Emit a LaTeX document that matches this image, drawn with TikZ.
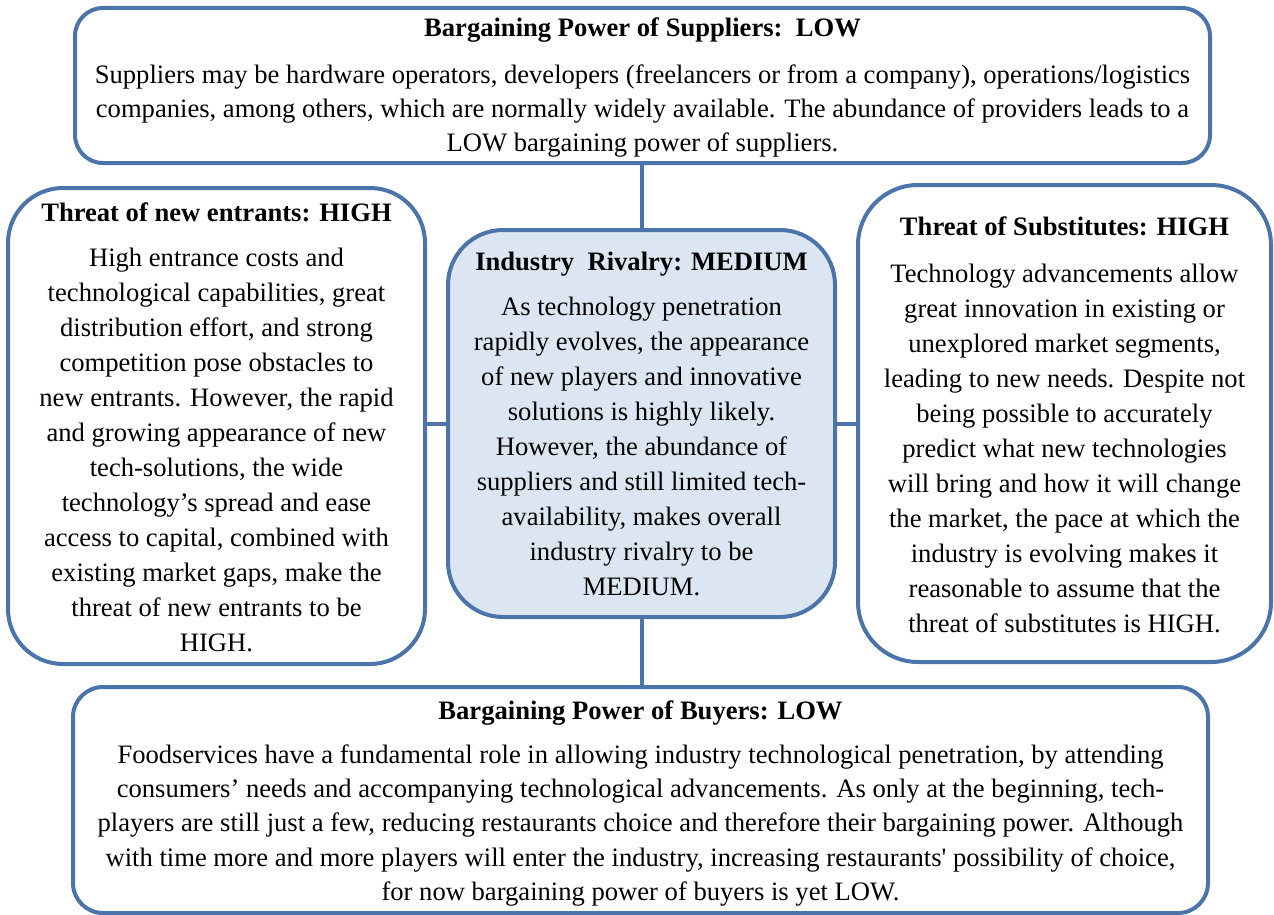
\documentclass[tikz,border=0pt]{standalone}
\usepackage{fontspec}
\setmainfont{Liberation Serif}
\begin{document}
\begin{tikzpicture}[x=1pt,y=-1pt,
  forcebox/.style={draw=forceblue, line width=4pt, fill=white, rectangle, inner sep=0pt},
  rivalbox/.style={forcebox, fill=rivalfill},
  forcetext/.style={anchor=north, align=center, inner sep=0pt,
    font=\fontsize{26.6}{34.3}\selectfont},
  narrowtext/.style={forcetext, font=\fontsize{26.6}{35}\selectfont},
  link/.style={draw=forceblue, line width=4pt}]
\definecolor{forceblue}{HTML}{4A74AA}
\definecolor{rivalfill}{HTML}{DCE6F2}
\useasboundingbox (0,0) rectangle (1274,915);

% the five forces as rounded boxes
\node[forcebox, rounded corners=28pt, minimum width=1135pt, minimum height=155pt] (sup) at (642.5,85.5) {};
\node[forcebox, rounded corners=55pt, minimum width=417pt, minimum height=476pt] (ent) at (216.5,426) {};
\node[rivalbox, rounded corners=55pt, minimum width=387pt, minimum height=387pt] (riv) at (641.5,423.5) {};
\node[forcebox, rounded corners=60pt, minimum width=413pt, minimum height=477pt] (sub) at (1064.5,423.5) {};
\node[forcebox, rounded corners=30pt, minimum width=1135pt, minimum height=226pt] (buy) at (640.5,800) {};

% connectors from the rivalry box to the other forces
\draw[link] (riv.north) -- (riv.north |- sup.south);
\draw[link] (riv.south) -- (riv.south |- buy.north);
\draw[link] (riv.west) -- (riv.west -| ent.east);
\draw[link] (riv.east) -- (riv.east -| sub.west);

% texts
\node[forcetext] (suptxt) at (642.5,17.3) {\textbf{Bargaining Power of Suppliers:\ \ LOW}\\[12.7pt]
Suppliers may be hardware operators, developers (freelancers or from a company), operations/logistics\\
companies, among others, which are normally widely available. The abundance of providers leads to a\\
LOW bargaining power of suppliers.};

\node[narrowtext] (enttxt) at (216.5,202.3) {\textbf{Threat of new entrants: HIGH}\\[10pt]
High entrance costs and\\
technological capabilities, great\\
distribution effort, and strong\\
competition pose obstacles to\\
new entrants. However, the rapid\\
and growing appearance of new\\
tech-solutions, the wide\\
technology’s spread and ease\\
access to capital, combined with\\
existing market gaps, make the\\
threat of new entrants to be\\
HIGH.};

\node[narrowtext] (rivtxt) at (641.5,252.3) {\textbf{Industry\ \ Rivalry: MEDIUM}\\[10pt]
As technology penetration\\
rapidly evolves, the appearance\\
of new players and innovative\\
solutions is highly likely.\\
However, the abundance of\\
suppliers and still limited tech-\\
availability, makes overall\\
industry rivalry to be\\
MEDIUM.};

\node[narrowtext] (subtxt) at (1064.5,216.3) {\textbf{Threat of Substitutes: HIGH}\\[12pt]
Technology advancements allow\\
great innovation in existing or\\
unexplored market segments,\\
leading to new needs. Despite not\\
being possible to accurately\\
predict what new technologies\\
will bring and how it will change\\
the market, the pace at which the\\
industry is evolving makes it\\
reasonable to assume that the\\
threat of substitutes is HIGH.};

\node[forcetext] (buytxt) at (640.5,700.3) {\textbf{Bargaining Power of Buyers: LOW}\\[9.7pt]
Foodservices have a fundamental role in allowing industry technological penetration, by attending\\
consumers’ needs and accompanying technological advancements. As only at the beginning, tech-\\
players are still just a few, reducing restaurants choice and therefore their bargaining power. Although\\
with time more and more players will enter the industry, increasing restaurants\textquotesingle{} possibility of choice,\\
for now bargaining power of buyers is yet LOW.};
\end{tikzpicture}
\end{document}
